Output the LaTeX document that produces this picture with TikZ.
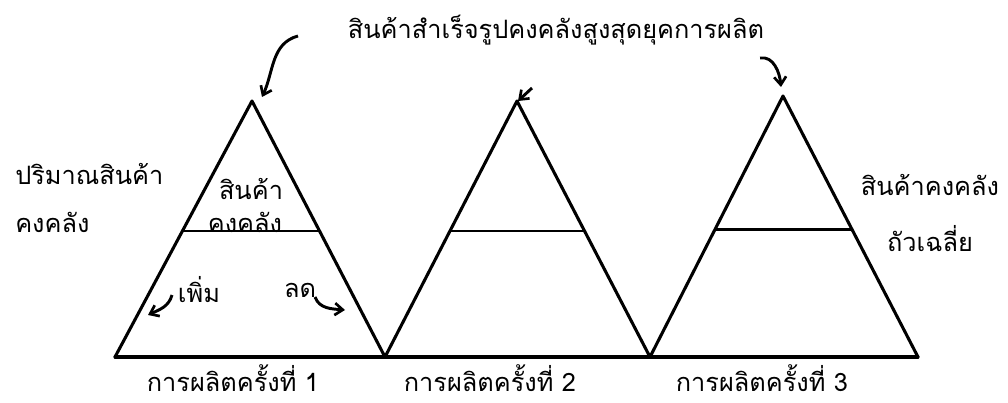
\documentclass[tikz,border=0pt]{standalone}
\usepackage{fontspec}
\newfontfamily\thai[Script=Thai]{Loma}
\usetikzlibrary{arrows.meta,calc}
\begin{document}
\begin{tikzpicture}[x=0.75pt,y=-0.75pt,
  edge/.style={line width=2.3pt,line join=round,line cap=round},
  level/.style={line width=2.1pt},
  ptr/.style={line width=2.2pt,-{Straight Barb[length=6pt,width=9pt,line width=2pt]}},
  lbl/.style={font=\thai\fontsize{19}{21}\selectfont,inner sep=0pt,anchor=center}]
\useasboundingbox (0,0) rectangle (1008,403);
% corners
\coordinate (b0) at (115,357);
\coordinate (a1) at (252,101);
\coordinate (b1) at (385,357);
\coordinate (a2) at (517,101);
\coordinate (b2) at (650,357);
\coordinate (a3) at (783,96);
\coordinate (b3) at (918,357);
% triangles and base
\draw[edge] (b0) -- (a1) -- (b1) -- (a2) -- (b2) -- (a3) -- (b3);
\draw[edge] (b0) -- (b3);
% stock levels
\draw[level] ($(b0)!0.492!(a1)$) -- ($(b1)!0.492!(a1)$);
\draw[level] ($(b1)!0.492!(a2)$) -- ($(b2)!0.492!(a2)$);
\draw[level] ($(b2)!0.487!(a3)$) -- ($(b3)!0.487!(a3)$);
% labels
\node[lbl] (top) at (556,30) {สินค้าสำเร็จรูปคงคลังสูงสุดยุคการผลิต};
\node[lbl,anchor=west] (left1) at (15,174) {ปริมาณสินค้า};
\node[lbl,anchor=west] (left2) at (15,222) {คงคลัง};
\node[lbl] (in1) at (251,189) {สินค้า};
\node[lbl] (in2) at (245,222) {คงคลัง};
\node[lbl] (up) at (199,290) {เพิ่ม};
\node[lbl] (down) at (300,290) {ลด};
\node[lbl] (right1) at (930,185) {สินค้าคงคลัง};
\node[lbl] (right2) at (930,239) {ถัวเฉลี่ย};
\node[lbl] (p1) at (233,378) {การผลิตครั้งที่ 1};
\node[lbl] (p2) at (490,378) {การผลิตครั้งที่ 2};
\node[lbl] (p3) at (762,378) {การผลิตครั้งที่ 3};
% arrows
\coordinate (s1) at (298,36);
\coordinate (t1) at (262,97);
\coordinate (s2) at (532,88);
\coordinate (t2) at (518,101);
\coordinate (s3) at (760,58);
\coordinate (t3) at (781,87);
\coordinate (s4) at (172,295);
\coordinate (t4) at (148,315);
\coordinate (s5) at (315,297);
\coordinate (t5) at (345,310);
\draw[ptr] (s1) to[out=195,in=65] (t1);
\draw[ptr] (s2) -- (t2);
\draw[ptr] (s3) to[out=10,in=95] (t3);
\draw[ptr] (s4) to[out=-105,in=25] (t4);
\draw[ptr] (s5) to[out=-70,in=175] (t5);
\end{tikzpicture}
\end{document}
